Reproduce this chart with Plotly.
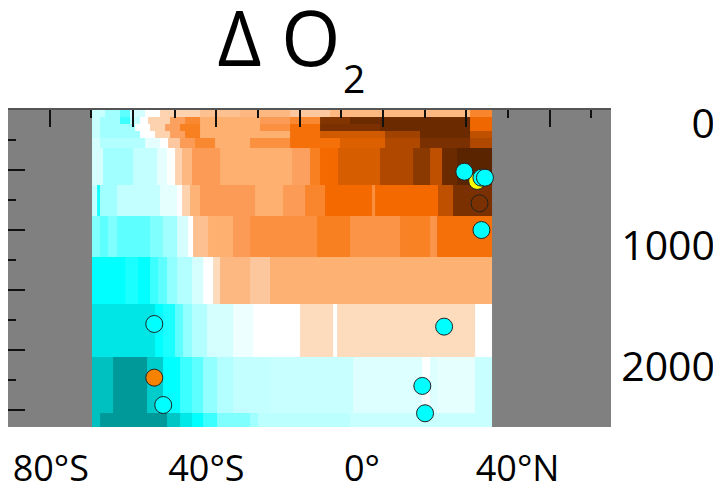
import plotly.graph_objects as go

# ---------------- data ----------------
lat_ticks = [-80, -40, 0, 40]
lat_labels = ['80°S', '40°S', '0°', '40°N']
depth_ticks = [0, 1000, 2000]
depth_labels = ['0', '1000', '2000']

ocean_north_edge = 33.4          # northern edge of the ocean section (deg)
depth_edges = [-115, -57, 0, 58, 115, 198, 502, 757, 1095, 1482, 1918, 2379, 2494]

# each row: (southern start latitude of a cell, delta O2 value); cells run to next start
row_00 = [(-69.4, -0.065), (-66.1, -0.11), (-62.2, -0.19), (-59.6, -0.05), (-55.8, 0.0),
          (-51.9, 0.11), (-41.6, 0.2), (-31.4, 0.24), (-18.5, 0.14), (-8.2, 0.24), (27.8, 0.5)]
row_01 = [(-69.4, -0.065), (-67.35, -0.11), (-62.2, -0.23), (-59.6, -0.07), (-57.1, 0.0),
          (-55.0, 0.11), (-49.4, 0.36), (-45.5, 0.49), (-41.6, 0.3), (-26.2, 0.39),
          (-18.5, 0.49), (-10.8, 0.9), (-3.1, 0.96), (27.8, 0.62)]
row_02 = [(-69.4, -0.065), (-67.35, -0.11), (-58.4, 0.0), (-54.5, 0.11), (-50.6, 0.36),
          (-46.8, 0.53), (-41.6, 0.3), (-26.2, 0.45), (-18.5, 0.58), (-10.8, 0.92),
          (4.6, 0.96), (27.8, 0.62)]
row_03 = [(-69.4, -0.065), (-67.35, -0.11), (-57.1, 0.0), (-53.2, 0.11), (-49.4, 0.36),
          (-45.5, 0.53), (-41.6, 0.3), (-18.5, 0.58), (-10.8, 0.72), (5.9, 0.84),
          (14.9, 0.96), (27.8, 0.77)]
row_04 = [(-69.4, -0.05), (-67.35, -0.09), (-55.8, -0.03), (-51.9, 0.0), (-49.9, 0.14),
          (-46.8, 0.39), (-42.9, 0.49), (-37.8, 0.3), (-28.8, 0.45), (-18.5, 0.58),
          (-5.7, 0.68), (5.9, 0.81), (14.9, 0.92), (27.8, 0.81)]
row_05 = [(-69.4, -0.05), (-66.6, -0.11), (-58.9, -0.07), (-52.7, -0.03), (-50.1, 0.0),
          (-48.1, 0.11), (-46.3, 0.24), (-43.7, 0.39), (-36.5, 0.3), (-18.0, 0.36),
          (-13.4, 0.53), (-10.8, 0.6), (-6.2, 0.7), (4.6, 0.81), (13.1, 0.88),
          (17.5, 0.77), (20.6, 0.96), (24.4, 1.0)]
row_06 = [(-69.4, -0.07), (-68.1, -0.27), (-67.35, -0.11), (-63.0, -0.07), (-51.9, -0.03),
          (-47.6, 0.0), (-46.3, 0.11), (-44.2, 0.28), (-41.6, 0.39), (-27.5, 0.3),
          (-20.3, 0.39), (-14.6, 0.5), (-9.5, 0.6), (2.6, 0.45), (3.3, 0.6),
          (19.5, 0.77), (23.4, 0.92)]
row_07 = [(-69.4, -0.15), (-67.35, -0.19), (-65.3, -0.15), (-63.0, -0.19), (-54.5, -0.15),
          (-51.2, -0.11), (-47.6, -0.05), (-44.7, 0.0), (-43.4, 0.2), (-39.6, 0.3),
          (-33.2, 0.39), (-28.8, 0.45), (-11.6, 0.53), (-3.1, 0.43), (9.8, 0.52),
          (17.5, 0.42), (19.3, 0.58)]
row_08 = [(-69.4, -0.3), (-60.9, -0.27), (-57.6, -0.3), (-54.5, -0.23), (-52.4, -0.19),
          (-50.1, -0.13), (-47.6, -0.09), (-43.7, -0.05), (-40.9, 0.0), (-38.3, 0.08),
          (-36.5, 0.24), (-28.8, 0.15), (-23.6, 0.29)]
row_09 = [(-69.4, -0.45), (-53.2, -0.3), (-51.2, -0.27), (-48.1, -0.19), (-46.0, -0.13),
          (-43.7, -0.09), (-39.9, -0.05), (-33.2, -0.02), (-28.0, 0.0), (-15.9, 0.08),
          (-7.5, 0.0), (-6.4, 0.08), (29.1, 0.0)]
row_10 = [(-69.4, -0.7), (-64.0, -0.9), (-55.3, -0.6), (-51.2, -0.3), (-46.8, -0.23),
          (-43.7, -0.19), (-40.9, -0.13), (-37.3, -0.09), (-33.2, -0.07), (-23.6, -0.065),
          (-2.3, -0.04), (15.4, 0.0), (17.5, -0.04), (19.3, -0.03), (29.1, -0.065)]
row_11 = [(-69.4, -0.7), (-67.35, -0.9), (-50.1, -0.65), (-46.8, -0.43), (-43.7, -0.3),
          (-40.9, -0.23), (-37.3, -0.15), (-28.8, -0.11), (-26.7, -0.08), (-3.1, -0.065)]

rows = [row_00, row_01, row_02, row_03, row_04, row_05,
        row_06, row_07, row_08, row_09, row_10, row_11]

# station observations
cyan_lat = [26.3, 30.7, 31.6, 30.7, 21.1, 15.5, 16.2, -53.4, -51.1]
cyan_depth = [393, 442, 442, 873, 1668, 2156, 2381, 1646, 2313]
orange_lat = [-53.4]
orange_depth = [2088]
yellow_lat = [29.6]
yellow_depth = [469]
brown_lat = [30.2]
brown_depth = [653]

# ---------------- build grid ----------------
x_edges = sorted({s for r in rows for s, _ in r} | {ocean_north_edge})
z = []
for r in rows:
    zr = []
    for i in range(len(x_edges) - 1):
        left = x_edges[i]
        val = None
        for s, v in r:
            if s <= left + 1e-9:
                val = v
        zr.append(val)
    z.append(zr)

cmap = [
    [0.0, '#007a7a'], [0.05, '#009999'], [0.15, '#00c0c0'], [0.2, '#00cccc'],
    [0.275, '#00e6e6'], [0.35, '#00ffff'], [0.5, '#ffffff'],
    [0.54, '#fddcbe'], [0.57, '#fdc8a0'], [0.6, '#fdc090'], [0.62, '#fdb882'],
    [0.65, '#fdb070'], [0.68, '#fca060'], [0.725, '#fb9040'], [0.765, '#f88020'],
    [0.8, '#f56a00'], [0.86, '#d05a00'], [0.905, '#b04800'], [0.94, '#8a3a00'],
    [0.96, '#7a3000'], [0.98, '#6b2a00'], [1.0, '#5a2400'],
]

fig = go.Figure()
fig.add_trace(go.Heatmap(x=x_edges, y=depth_edges, z=z, colorscale=cmap,
                         zmin=-1, zmax=1, showscale=False, hoverinfo='skip'))

mk = dict(size=17, line=dict(color='#222222', width=1))
fig.add_trace(go.Scatter(x=brown_lat, y=brown_depth, mode='markers',
                         marker=dict(color='#7a3000', **mk), showlegend=False))
fig.add_trace(go.Scatter(x=yellow_lat, y=yellow_depth, mode='markers',
                         marker=dict(color='#ffff00', **mk), showlegend=False))
fig.add_trace(go.Scatter(x=orange_lat, y=orange_depth, mode='markers',
                         marker=dict(color='#f58200', **mk), showlegend=False))
fig.add_trace(go.Scatter(x=cyan_lat, y=cyan_depth, mode='markers',
                         marker=dict(color='#00ffff', **mk), showlegend=False))
# carriers for the frame tick axes
fig.add_trace(go.Scatter(x=[None], y=[None], xaxis='x2', yaxis='y2',
                         showlegend=False, hoverinfo='skip'))
fig.add_trace(go.Scatter(x=[None], y=[None], xaxis='x', yaxis='y3',
                         showlegend=False, hoverinfo='skip'))

FONT = 'Open Sans, Noto Sans, sans-serif'
W, H = 713, 485          # page body keeps an 8px margin
xdom = [0, 603 / W]
fig.update_layout(
    width=W, height=H,
    margin=dict(l=0, r=0, t=102, b=66),
    paper_bgcolor='white', plot_bgcolor='#808080',
    showlegend=False,
    title=dict(text='Δ O', x=271 / W, xanchor='center',
               y=1 - 31 / H, yanchor='middle', yref='container',
               font=dict(family=FONT, size=76, color='black')),
    annotations=[dict(text='2', xref='paper', yref='paper', x=345.5 / W,
                      y=1 + (102 - 69) / 317, xanchor='center', yanchor='middle',
                      showarrow=False, font=dict(family=FONT, size=39, color='black'))],
    xaxis=dict(domain=xdom, range=[-91, 64], tickvals=lat_ticks, ticktext=lat_labels,
               ticks='', showgrid=False, zeroline=False, showline=False,
               tickfont=dict(family=FONT, size=36, color='black'),
               ticklabelstandoff=17, automargin=False),
    xaxis2=dict(domain=xdom, overlaying='x', anchor='y2', side='top', range=[0, 14.47],
                tick0=1, dtick=2, ticks='inside', ticklen=17, tickwidth=2, tickcolor='#111',
                minor=dict(tick0=0, dtick=1, ticks='inside', ticklen=8, tickwidth=2,
                           tickcolor='#111'),
                showticklabels=False, showgrid=False, zeroline=False,
                showline=True, linecolor='#555', linewidth=1.5, automargin=False),
    yaxis=dict(range=[2494, -115], showticklabels=False, ticks='', showgrid=False,
               zeroline=False, showline=False, automargin=False),
    yaxis2=dict(overlaying='y', anchor='x2', side='left', range=[10.57, 0],
                tick0=0, dtick=2, ticks='inside', ticklen=17, tickwidth=2, tickcolor='#111',
                minor=dict(tick0=1, dtick=1, ticks='inside', ticklen=8, tickwidth=2,
                           tickcolor='#111'),
                showticklabels=False, showgrid=False, zeroline=False,
                showline=True, linecolor='#111', linewidth=2, automargin=False),
    yaxis3=dict(overlaying='y', anchor='free', position=1.0, side='left',
                range=[2494, -115], tickvals=depth_ticks, ticktext=depth_labels,
                ticks='', showgrid=False, zeroline=False, showline=False,
                tickfont=dict(family=FONT, size=41, color='black'),
                ticklabelstandoff=6, automargin=False),
)

fig.write_html('out.html')
